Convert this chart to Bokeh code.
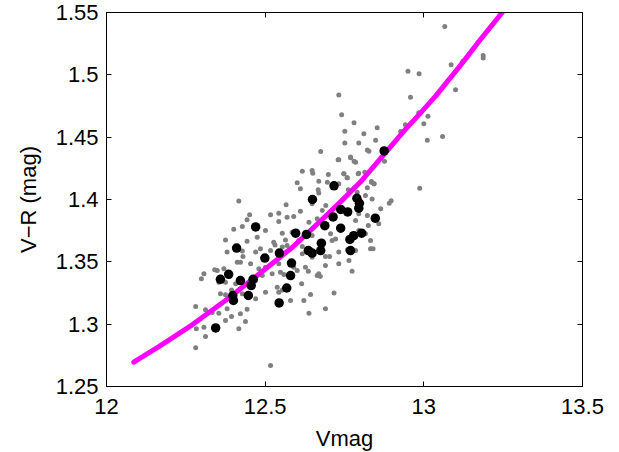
from bokeh.plotting import figure
from bokeh.models import Range1d, LinearAxis, FixedTicker
from bokeh.embed import file_html
from bokeh.resources import INLINE

# ---- data ----
xticks = [12, 12.5, 13, 13.5]
xtick_labels = ["12", "12.5", "13", "13.5"]
yticks = [1.25, 1.3, 1.35, 1.4, 1.45, 1.5, 1.55]
ytick_labels = ["1.25", "1.3", "1.35", "1.4", "1.45", "1.5", "1.55"]

# small grey points (all stars)
gray_x = [12.675, 12.732, 12.769, 12.785, 12.617, 12.648, 12.650, 12.699, 12.748, 12.758,
          12.795, 12.601, 12.669, 12.835, 12.843, 12.417, 12.611, 12.667, 12.669, 12.762,
          12.816, 12.837, 12.451, 12.443, 12.517, 12.543, 12.566, 12.611, 12.680, 12.795,
          12.822, 12.864, 12.401, 12.428, 12.501, 12.543, 12.569, 12.590, 12.638, 12.664,
          12.785, 12.858, 12.375, 12.443, 12.475, 12.527, 12.531, 12.554, 12.564, 12.585,
          12.606, 12.648, 12.706, 12.711, 12.722, 12.380, 12.430, 12.470, 12.485, 12.517,
          12.554, 12.569, 12.617, 12.617, 12.648, 12.690, 12.703, 12.732, 12.759, 12.832,
          12.840, 12.341, 12.349, 12.370, 12.454, 12.480, 12.522, 12.543, 12.559, 12.590,
          12.627, 12.636, 12.669, 12.674, 12.690, 12.732, 12.764, 12.774, 12.307, 12.299,
          12.407, 12.491, 12.538, 12.615, 12.717, 12.359, 12.375, 12.470, 12.501, 12.580,
          12.622, 12.643, 12.281, 12.312, 12.333, 12.354, 12.380, 12.394, 12.443, 12.638,
          12.690, 12.283, 12.307, 12.312, 12.417, 12.438, 12.281, 12.517,
          12.428, 12.412, 12.422, 12.554, 12.394, 12.428, 12.422, 12.375, 12.354, 12.375,
          12.470, 12.585, 12.543, 12.664, 12.785, 12.795, 12.816, 12.832, 12.825, 12.717,
          12.790, 12.691, 12.648, 12.732, 12.696, 12.814, 12.822, 12.601, 12.548, 12.501,
          13.066, 13.086, 13.123, 13.187, 13.187, 12.950, 12.985, 12.958, 13.039, 13.100,
          12.732, 12.741, 12.780, 12.751, 12.811, 12.853, 12.942, 12.984, 13.013, 13.000,
          12.927, 12.751, 12.795, 12.848, 12.822, 12.827, 13.011, 13.059, 12.730, 12.769,
          12.780, 12.876, 12.748, 12.759, 12.793, 12.819, 12.835, 12.843, 12.897, 12.891,
          12.987]
gray_y = [1.4385, 1.4318, 1.4340, 1.4299, 1.4227, 1.4233, 1.4211, 1.4200, 1.4206, 1.4174,
          1.4211, 1.4134, 1.4147, 1.4139, 1.4126, 1.3987, 1.4086, 1.4078, 1.4053, 1.4078,
          1.4032, 1.4005, 1.3877, 1.3837, 1.3877, 1.3890, 1.3957, 1.3906, 1.3912, 1.3885,
          1.3872, 1.3925, 1.3762, 1.3783, 1.3751, 1.3824, 1.3858, 1.3864, 1.3818, 1.3845,
          1.3832, 1.3805, 1.3676, 1.3666, 1.3698, 1.3658, 1.3636, 1.3730, 1.3676, 1.3738,
          1.3671, 1.3711, 1.3725, 1.3671, 1.3684, 1.3578, 1.3543, 1.3578, 1.3604, 1.3591,
          1.3618, 1.3631, 1.3623, 1.3564, 1.3537, 1.3543, 1.3543, 1.3578, 1.3596, 1.3604,
          1.3604, 1.3436, 1.3430, 1.3444, 1.3484, 1.3444, 1.3404, 1.3484, 1.3398, 1.3457,
          1.3457, 1.3425, 1.3404, 1.3382, 1.3471, 1.3484, 1.3511, 1.3425, 1.3404, 1.3364,
          1.3324, 1.3390, 1.3297, 1.3324, 1.3249, 1.3243, 1.3235, 1.3203, 1.3257, 1.3190,
          1.3190, 1.3238, 1.3142, 1.3115, 1.3094, 1.3088, 1.3123, 1.3062, 1.3120, 1.3088,
          1.3123, 1.2963, 1.2976, 1.2901, 1.2963, 1.3021, 1.2810, 1.2669,
          1.3586, 1.3497, 1.3497, 1.3275, 1.3275, 1.3243, 1.3083, 1.3029, 1.3337, 1.3337,
          1.3350, 1.3382, 1.3257, 1.3390, 1.3591, 1.3751, 1.3725, 1.3671, 1.3792, 1.3845,
          1.4059, 1.3952, 1.3965, 1.4126, 1.4139, 1.4219, 1.4094, 1.3430, 1.3417, 1.3457,
          1.5388, 1.5080, 1.5109, 1.5155, 1.5136, 1.5029, 1.5008, 1.4821, 1.4834, 1.4880,
          1.4839, 1.4679, 1.4615, 1.4548, 1.4527, 1.4575, 1.4599, 1.4695, 1.4668, 1.4607,
          1.4545, 1.4454, 1.4454, 1.4476, 1.4398, 1.4388, 1.4476, 1.4505, 1.4318, 1.4334,
          1.4307, 1.4307, 1.4206, 1.4174, 1.4206, 1.4206, 1.4144, 1.4126, 1.3990, 1.3970,
          1.4090]

# large black points (selected stars)
black_x = [12.875, 12.717, 12.649, 12.789, 12.797, 12.795, 12.738, 12.760, 12.714, 12.847,
           12.688, 12.738, 12.470, 12.596, 12.630, 12.804, 12.779, 12.767, 12.677, 12.410,
           12.636, 12.648, 12.675, 12.769, 12.545, 12.499, 12.583, 12.580, 12.385, 12.359,
           12.422, 12.462, 12.456, 12.568, 12.398, 12.447, 12.400, 12.544, 12.344]
black_y = [1.439, 1.411, 1.400, 1.401, 1.397, 1.393, 1.392, 1.390, 1.386, 1.385,
           1.379, 1.377, 1.378, 1.373, 1.372, 1.373, 1.371, 1.368, 1.365, 1.361,
           1.359, 1.357, 1.359, 1.359, 1.357, 1.353, 1.349, 1.339, 1.340, 1.336,
           1.335, 1.336, 1.331, 1.329, 1.323, 1.323, 1.319, 1.317, 1.297]

# magenta relation, points
fit_x = [12.086, 12.165, 12.270, 12.375, 12.480, 12.585, 12.638, 12.690, 12.743,
         12.800, 12.874, 12.948, 12.990, 13.039, 13.126, 13.168, 13.247]
fit_y = [1.2695, 1.2820, 1.2995, 1.3190, 1.3400, 1.3615, 1.3740, 1.3865, 1.3995,
         1.4140, 1.4360, 1.4580, 1.4695, 1.4835, 1.5110, 1.5250, 1.5500]

FONT = "Liberation Sans"
FS = "22px"

p = figure(frame_width=476, frame_height=374, output_backend="svg", toolbar_location=None,
           x_range=Range1d(12, 13.5), y_range=Range1d(1.25, 1.55),
           min_border_left=106, min_border_right=26, min_border_top=12, min_border_bottom=64,
           x_axis_location=None, y_axis_location=None)
p.xgrid.visible = False
p.ygrid.visible = False
p.outline_line_color = "black"
p.outline_line_width = 1
p.background_fill_color = "white"
p.border_fill_color = "white"

def style_axis(ax, ticks, labels, show_labels, title=None):
    ax.ticker = FixedTicker(ticks=ticks)
    ax.minor_tick_line_color = None
    ax.major_tick_in = 5
    ax.major_tick_out = 0
    ax.major_tick_line_color = "black"
    ax.axis_line_color = "black"
    ax.major_label_text_font = FONT
    ax.major_label_text_color = "black"
    if show_labels:
        ax.major_label_overrides = {t: l for t, l in zip(ticks, labels)}
        ax.major_label_text_font_size = FS
    else:
        ax.major_label_overrides = {t: "" for t in ticks}
        ax.major_label_text_font_size = "0px"
        ax.major_label_standoff = 0
    if title:
        ax.axis_label = title
        ax.axis_label_text_font = FONT
        ax.axis_label_text_font_size = FS
        ax.axis_label_text_font_style = "normal"
        ax.axis_label_text_color = "black"

xb = LinearAxis(); style_axis(xb, xticks, xtick_labels, True, "Vmag")
xb.major_label_standoff = 12
xb.axis_label_standoff = 9
yl = LinearAxis(); style_axis(yl, yticks, ytick_labels, True, "V\u2212R (mag)")
yl.major_label_standoff = 8
yl.axis_label_standoff = 12
xa = LinearAxis(); style_axis(xa, xticks, xtick_labels, False)
yr = LinearAxis(); style_axis(yr, yticks, ytick_labels, False)
p.add_layout(xb, "below")
p.add_layout(yl, "left")
p.add_layout(xa, "above")
p.add_layout(yr, "right")

p.scatter(gray_x, gray_y, size=5, color="#808080", line_color=None)
p.line(fit_x, fit_y, line_color="#ff00ff", line_width=5, line_cap="round", line_join="round")
p.scatter(black_x, black_y, size=9.5, color="black", line_color=None)

open("out.html", "w").write(file_html(p, INLINE))
